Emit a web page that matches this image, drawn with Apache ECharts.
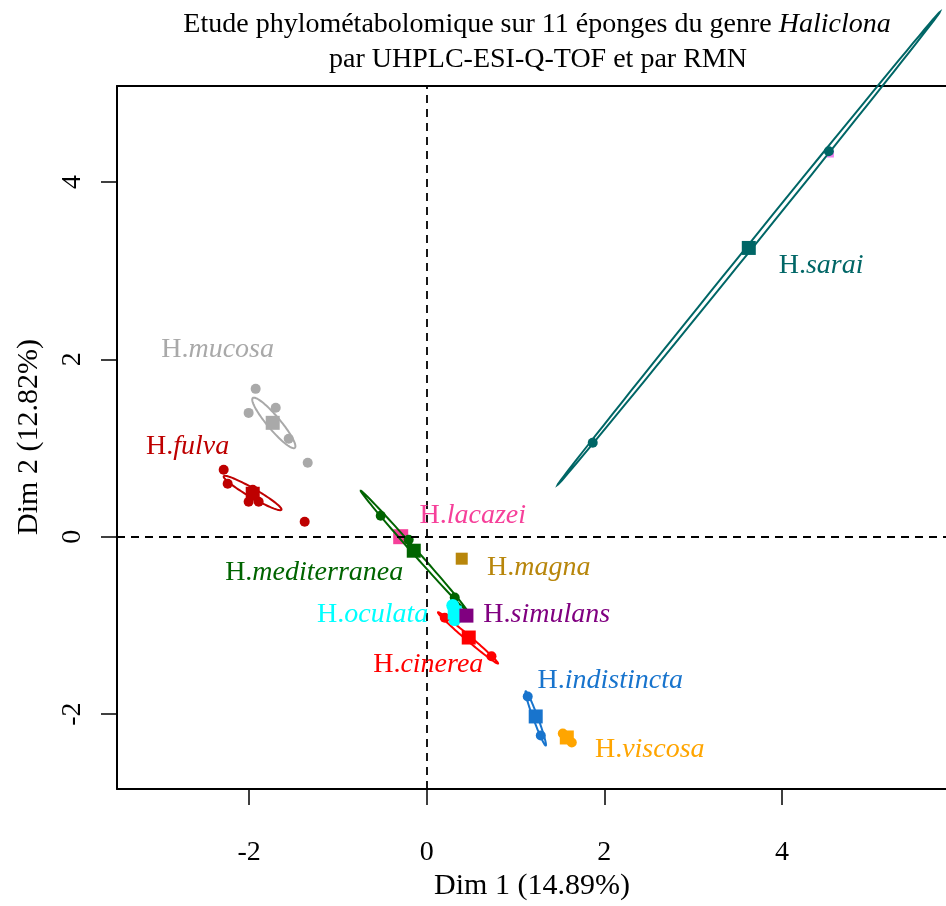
<!DOCTYPE html>
<html>
<head>
<meta charset="utf-8">
<script src="https://cdn.jsdelivr.net/npm/echarts@6/dist/echarts.min.js"></script>
<style>html,body{margin:0;padding:0;background:#fff;overflow:hidden;width:946px;height:906px}#c{width:960px;height:906px}</style>
</head>
<body>
<div id="c"></div>
<script>
// ---- data ----
const groupNames = ['H.mucosa','H.fulva','H.mediterranea','H.lacazei','H.magna','H.oculata','H.simulans','H.cinerea','H.indistincta','H.viscosa','H.sarai'];
const mucosaPts = [[-1.926,1.667],[-2.005,1.396],[-1.700,1.453],[-1.554,1.104],[-1.340,0.833]];
const fulvaPts = [[-2.286,0.755],[-2.241,0.597],[-1.959,0.529],[-2.005,0.394],[-1.892,0.394],[-1.374,0.169]];
const mediterraneaPts = [[-0.518,0.236],[-0.203,-0.034],[0.315,-0.687]];
const lacazeiPts = [];
const magnaPts = [];
const oculataPts = [[0.293,-0.777],[0.315,-0.935]];
const simulansPts = [];
const cinereaPts = [[0.203,-0.914],[0.729,-1.348]];
const indistinctaPts = [[1.137,-1.802],[1.284,-2.241]];
const viscosaPts = [[1.532,-2.219],[1.633,-2.320]];
const saraiPts = [[1.869,1.059],[4.527,4.347]];
// group means (squares), same order as groupNames
const meanX = [-1.734,-1.959,-0.146,-0.293,0.394,0.315,0.447,0.473,1.227,1.577,3.626];
const meanY = [1.284,0.484,-0.158,0.000,-0.248,-0.856,-0.890,-1.137,-2.027,-2.264,3.256];
// confidence ellipses: [group index, x1, y1, x2, y2, half-width]
const ellipses = [
  [0,-1.958,1.564,-1.485,1.002,0.073],
  [1,-2.285,0.681,-1.636,0.304,0.050],
  [2,-0.743,0.518,0.458,-0.841,0.028],
  [7,0.127,-0.853,0.803,-1.430,0.028],
  [8,1.114,-1.743,1.340,-2.355,0.026],
  [10,1.475,0.586,5.776,5.915,0.029]
];
// label anchors (data coordinates)
const labelX = [-2.354,-2.692,-1.267,0.518,1.261,-0.608,1.351,0.017,2.066,2.511,4.440];
const labelY = [2.106,1.014,-0.405,0.237,-0.349,-0.879,-0.879,-1.442,-1.622,-2.400,3.053];
// extra violet speck near H.sarai point
const violetPts = [[4.545,4.315]];
const tickValues = [-2,0,2,4];

// ---- styles ----
const colors = ['#A9A9A9','#BE0000','#006400','#F6409A','#B8860B','#00FFFF','#800080','#FF0000','#1874CD','#FFA500','#006666'];
const groupPts = [mucosaPts,fulvaPts,mediterraneaPts,lacazeiPts,magnaPts,oculataPts,simulansPts,cinereaPts,indistinctaPts,viscosaPts,saraiPts];
const FONT = '"Liberation Serif","Times New Roman",serif';

const series = [];
series.push({
  type:'scatter', symbol:'rect', symbolSize:15, z:1, silent:true,
  data:[{value:[meanX[3],meanY[3]]}], itemStyle:{color:colors[3], opacity:1},
  markLine:{silent:true, symbol:'none', label:{show:false},
    lineStyle:{color:'#000', type:[8,6], width:1.8, opacity:1},
    data:[{xAxis:0},{yAxis:0}]}
});
series.push({type:'scatter', symbol:'rect', symbolSize:7, z:1, silent:true,
  data:violetPts, itemStyle:{color:'#EE82EE', opacity:1}});
series.push({
  type:'custom', z:2, clip:false, silent:true,
  data: ellipses,
  renderItem:function(params, api){
    const gi = api.value(0);
    const p1 = api.coord([api.value(1), api.value(2)]);
    const p2 = api.coord([api.value(3), api.value(4)]);
    const hw = api.size([api.value(5), 0])[0];
    const cx=(p1[0]+p2[0])/2, cy=(p1[1]+p2[1])/2;
    const dx=(p2[0]-p1[0])/2, dy=(p2[1]-p1[1])/2;
    const a=Math.hypot(dx,dy), ux=dx/a, uy=dy/a, vx=-uy, vy=ux;
    const pts=[];
    for(let i=0;i<=96;i++){const t=i/96*2*Math.PI;
      pts.push([cx+a*Math.cos(t)*ux+hw*Math.sin(t)*vx, cy+a*Math.cos(t)*uy+hw*Math.sin(t)*vy]);}
    return {type:'polygon', shape:{points:pts}, style:{fill:null, stroke:colors[gi], lineWidth:2}};
  }
});
groupPts.forEach((pts,i)=>{
  if(!pts.length) return;
  series.push({type:'scatter', symbol:'circle', symbolSize: i===5?13:10, z:3, silent:true,
    data:pts, itemStyle:{color:colors[i], opacity:1}});
});
meanX.forEach((x,i)=>{
  if(i===3) return;
  series.push({type:'scatter', symbol:'rect', symbolSize: i===4?12:14, z:4, silent:true,
    data:[[x,meanY[i]]], itemStyle:{color:colors[i], opacity:1}});
});
series.push({
  type:'scatter', symbolSize:0, z:5, silent:true, itemStyle:{opacity:1},
  data: groupNames.map((n,i)=>({
    value:[labelX[i],labelY[i]],
    label:{show:true, position:'inside', opacity:1,
      formatter:'{r|H.}{i|'+n.slice(2)+'}',
      rich:{r:{fontFamily:FONT,fontSize:28,color:colors[i]}, i:{fontFamily:FONT,fontSize:28,fontStyle:'italic',color:colors[i]}}}
  }))
});

const XMIN=-3.487, XMAX=5.97, YMIN=-2.845, YMAX=5.082;
const chart = echarts.init(document.getElementById('c'), null, {renderer:'canvas', width:960, height:906});
chart.setOption({
  animation:false,
  backgroundColor:'#fff',
  grid:{left:117, top:86, width:840, height:703, show:false, containLabel:false},
  xAxis:[
    {type:'value', position:'bottom', min:XMIN, max:XMAX, splitLine:{show:false},
      axisLine:{show:true, onZero:false, lineStyle:{color:'#000', width:2}},
      axisTick:{show:true, customValues:tickValues, length:16, lineStyle:{color:'#000', width:1.5}},
      axisLabel:{customValues:tickValues, margin:50, fontFamily:FONT, fontSize:28, color:'#000'}},
    {type:'value', position:'top', min:XMIN, max:XMAX, splitLine:{show:false},
      axisLine:{show:true, onZero:false, lineStyle:{color:'#000', width:2}},
      axisTick:{show:false}, axisLabel:{show:false}}
  ],
  yAxis:{type:'value', min:YMIN, max:YMAX, splitLine:{show:false},
    axisLine:{show:true, onZero:false, lineStyle:{color:'#000', width:2}},
    axisTick:{show:true, customValues:tickValues, length:16, lineStyle:{color:'#000', width:1.5}},
    axisLabel:{customValues:tickValues, rotate:90, margin:30, fontFamily:FONT, fontSize:28, color:'#000'}},
  graphic:[
    {type:'text', x:537, y:25, z:10, style:{text:'{n|Etude phylométabolomique sur 11 éponges du genre }{it|Haliclona}',
      rich:{n:{fontFamily:FONT,fontSize:28,fill:'#000'}, it:{fontFamily:FONT,fontSize:28,fontStyle:'italic',fill:'#000'}},
      align:'center', verticalAlign:'middle'}},
    {type:'text', x:538, y:60, z:10, style:{text:'par UHPLC-ESI-Q-TOF et par RMN', fontFamily:FONT, fontSize:28, fill:'#000', align:'center', verticalAlign:'middle'}},
    {type:'text', x:532, y:886, z:10, style:{text:'Dim 1 (14.89%)', fontFamily:FONT, fontSize:30, fill:'#000', align:'center', verticalAlign:'middle'}},
    {type:'text', x:29, y:437, rotation:Math.PI/2, z:10, style:{text:'Dim 2 (12.82%)', fontFamily:FONT, fontSize:30, fill:'#000', align:'center', verticalAlign:'middle'}}
  ],
  series: series
});
</script>
</body>
</html>
